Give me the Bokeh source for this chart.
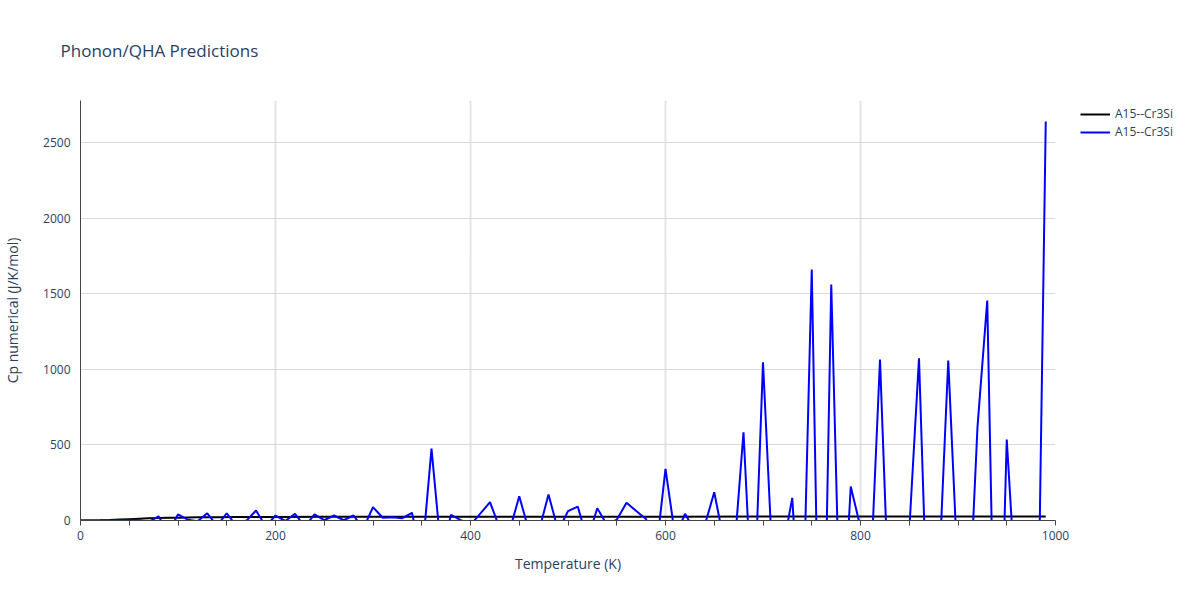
from bokeh.plotting import figure
from bokeh.layouts import row
from bokeh.models import Legend, LegendItem, FixedTicker, Range1d
from bokeh.embed import file_html
from bokeh.resources import INLINE

# Blue series (numerical Cp), temperatures in K
temp_num = [0, 10, 20, 30, 40, 50, 60, 70, 80, 90,
            100, 110, 120, 130, 140, 150, 160, 170, 180, 190,
            200, 210, 220, 230, 240, 250, 260, 270, 280, 290,
            300, 310, 320, 330, 340, 350, 360, 370, 380, 390,
            400, 410, 420, 430, 440, 450, 460, 470, 480, 490,
            500, 510, 520, 530, 540, 550, 560, 570, 580, 590,
            600, 610, 620, 630, 640, 650, 660, 670, 680, 690,
            700, 710, 720, 730, 740, 750, 760, 770, 780, 790,
            800, 810, 820, 830, 840, 850, 860, 870, 880, 890,
            900, 910, 920, 930, 940, 950, 960, 970, 980, 990]
cp_num = [0, 0, 0, 0, 1, 1, 2, -10, 28, -80,
          40, 5, -5, 48, -35, 48, -38, -3, 66, -39,
          33, -3, 44, -40, 40, 2, 33, 2, 33, -54,
          88, 18, 22, 15, 51, -260, 475, -215, 38, 3,
          -30, 45, 121, -52, -69, 160, -69, -74, 172, -68,
          62, 92, -130, 81, -29, 5, 117, 63, 10, -229,
          342, -110, 44, -66, -38, 187, -141, -250, 584, -720,
          1047, -313, -204, 150, -900, 1660, -1900, 1561, -950, 225,
          -46, -420, 1065, -700, -300, -68, 1073, -950, -420, 1058,
          -372, -789, 620, 1455, -1820, 536, -536, -900, -1687, 2639]

# Black series (smooth Cp)
temp_smooth = [0, 10, 20, 30, 40, 50, 60, 70, 80, 90, 100, 120, 140, 160, 180,
               200, 250, 300, 350, 400, 500, 600, 700, 800, 900, 990]
cp_smooth = [0, 0.1, 1, 3, 6, 9, 12, 14.5, 16.5, 18, 19, 20.8, 22, 22.8, 23.4,
             23.8, 24.5, 24.9, 25.1, 25.3, 25.5, 25.6, 25.7, 25.8, 25.85, 25.9]

series_name = "A15--Cr3Si"
x_ticks = [0, 50, 100, 150, 200, 250, 300, 350, 400, 450, 500, 550, 600, 650, 700,
           750, 800, 850, 900, 950, 1000]
x_labeled = [0, 200, 400, 600, 800, 1000]
y_ticks = [0, 500, 1000, 1500, 2000, 2500]

FONT = "Open Sans"
TXT = "#2a3f5f"

p = figure(width=1075, height=600, output_backend="svg", toolbar_location=None,
           x_range=Range1d(0, 1000), y_range=Range1d(0, 2778),
           min_border_left=80, min_border_right=20, min_border_top=100,
           min_border_bottom=80)
p.outline_line_color = None
p.background_fill_color = "white"

p.title.text = "Phonon/QHA Predictions"
p.title.align = "left"
p.title.offset = -20
p.title.vertical_align = "top"
p.title.standoff = 74
p.title.text_font = FONT
p.title.text_font_size = "17px"
p.title.text_font_style = "normal"
p.title.text_color = TXT

p.line(temp_smooth, cp_smooth, line_color="black", line_width=2)
p.line(temp_num, cp_num, line_color="blue", line_width=2)

# x axis
xa = p.xaxis[0]
xa.ticker = FixedTicker(ticks=x_ticks)
xa.major_label_overrides = {t: ("" if t not in x_labeled else str(t)) for t in x_ticks}
xa.minor_tick_line_color = None
xa.major_tick_in = 0
xa.major_tick_out = 5
xa.major_tick_line_color = "#444444"
xa.axis_line_color = "#444444"
xa.axis_label = "Temperature (K)"
xa.axis_label_standoff = 11
xa.axis_label_text_font = FONT
xa.axis_label_text_font_size = "14px"
xa.axis_label_text_font_style = "normal"
xa.axis_label_text_color = TXT
xa.major_label_text_font = FONT
xa.major_label_text_font_size = "12px"
xa.major_label_text_color = TXT
xa.major_label_standoff = 5

# y axis
ya = p.yaxis[0]
ya.ticker = FixedTicker(ticks=y_ticks)
ya.minor_tick_line_color = None
ya.major_tick_line_color = None
ya.major_tick_in = 0
ya.major_tick_out = 0
ya.axis_line_color = "#444444"
ya.axis_label = "Cp numerical (J/K/mol)"
ya.axis_label_standoff = 18
ya.axis_label_text_font = FONT
ya.axis_label_text_font_size = "14px"
ya.axis_label_text_font_style = "normal"
ya.axis_label_text_color = TXT
ya.major_label_text_font = FONT
ya.major_label_text_font_size = "12px"
ya.major_label_text_color = TXT
ya.major_label_standoff = 10

p.xgrid.ticker = FixedTicker(ticks=[200, 400, 600, 800])
p.xgrid.grid_line_color = "#e4e4e4"
p.xgrid.grid_line_width = 2
p.ygrid.ticker = FixedTicker(ticks=[500, 1000, 1500, 2000, 2500])
p.ygrid.grid_line_color = "#d9d9d9"
p.ygrid.grid_line_width = 1

# Legend panel to the right of the plot (series drawn out of its view range,
# so only the legend entries show)
pl = figure(width=125, height=600, output_backend="svg", toolbar_location=None,
            x_range=Range1d(-20, -10), y_range=Range1d(0, 1), min_border=0)
pl.axis.visible = False
pl.grid.visible = False
pl.outline_line_color = None
lg1 = pl.line(temp_smooth, cp_smooth, line_color="black", line_width=2)
lg2 = pl.line(temp_num, cp_num, line_color="blue", line_width=2)

legend = Legend(items=[LegendItem(label=series_name, renderers=[lg1]),
                       LegendItem(label=series_name, renderers=[lg2])],
                location=(5, 380), orientation="vertical")
legend.margin = 0
legend.padding = 0
legend.spacing = 1
legend.glyph_width = 30
legend.glyph_height = 16
legend.label_height = 16
legend.label_standoff = 5
legend.label_text_font = FONT
legend.label_text_font_size = "12px"
legend.label_text_color = TXT
legend.border_line_color = None
legend.background_fill_alpha = 0
pl.add_layout(legend, "center")

layout = row(p, pl)
open("out.html", "w").write(file_html(layout, INLINE))
